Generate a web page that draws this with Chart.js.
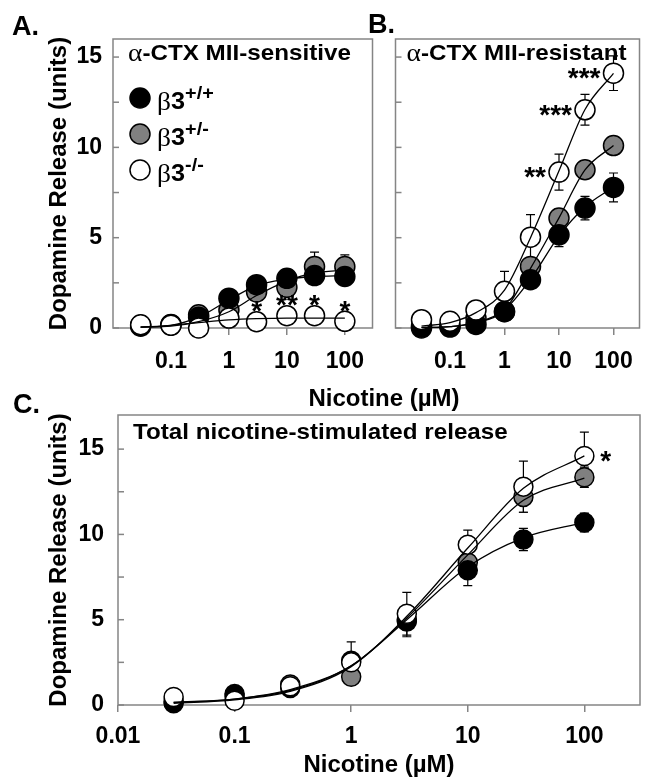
<!DOCTYPE html>
<html>
<head>
<meta charset="utf-8">
<title>Dopamine release vs nicotine</title>
<script src="https://cdn.jsdelivr.net/npm/chart.js@4.4.0/dist/chart.umd.min.js"></script>
<style>
  html, body { margin: 0; padding: 0; background: #fff; }
  #page { position: relative; width: 651px; height: 777px; overflow: hidden;
          font-family: "Liberation Sans", Arial, sans-serif; color: #000; }
  canvas { position: absolute; }
  .letter { position: absolute; font-weight: bold; font-size: 27px; line-height: 1; }
  #sharedX { position: absolute; left: 234px; width: 300px; top: 386px; text-align: center;
             font-weight: bold; font-size: 24px; line-height: 24px; }
</style>
</head>
<body>
<div id="page">
  <canvas id="chartA" width="384" height="378" style="left:0;top:0"></canvas>
  <canvas id="chartB" width="267" height="378" style="left:384px;top:0"></canvas>
  <canvas id="chartC" width="651" height="397" style="left:0;top:380px"></canvas>
  <div class="letter" style="left:12px;top:13px">A.</div>
  <div class="letter" style="left:368px;top:11px">B.</div>
  <div class="letter" style="left:13px;top:391px">C.</div>
  <div id="sharedX">Nicotine (µM)</div>
</div>
<script>
// Nicotine concentrations (µM) and genotype labels
const conc = [0.03, 0.1, 0.3, 1, 3, 10, 30, 100];
const genotypes = ['+/+', '+/-', '-/-'];
const xTicksAB = [0.1, 1, 10, 100];
const xTicksC = [0.01, 0.1, 1, 10, 100];
const yTicks = [0, 2.5, 5, 7.5, 10, 12.5, 15];

// A. alpha-CTX MII-sensitive release
const sensWT  = [0.1, 0.2, 0.6, 1.65, 2.4, 2.75, 2.9, 2.85];
const sensHet = [0.15, 0.18, 0.73, 1.0, 2.0, 2.25, 3.4, 3.4];
const sensKO  = [0.18, 0.15, 0.0, 0.55, 0.35, 0.68, 0.68, 0.37];
const sensWTErr  = [0.05, 0.1, 0.15, 0.3, 0.4, 0.3, 0.4, 0.5];
const sensHetErr = [0.05, 0.1, 0.15, 0.2, 0.35, 0.4, 0.8, 0.65];
const sensKOErr  = [0.05, 0.05, 0.05, 0.1, 0.1, 0.15, 0.15, 0.15];
const sensWTFit  = [0.05, 0.15, 0.6, 1.55, 2.35, 2.7, 2.85, 2.9];
const sensHetFit = [0.05, 0.1, 0.35, 0.9, 1.8, 2.6, 3.05, 3.2];
const sensKOFit  = [0.05, 0.15, 0.3, 0.45, 0.52, 0.55, 0.55, 0.55];
const sensStars  = ['', '', '', '', '*', '**', '*', '*'];

// B. alpha-CTX MII-resistant release
const resWT  = [0.0, 0.05, 0.2, 0.9, 2.67, 5.16, 6.64, 7.78];
const resHet = [0.1, 0.1, 0.55, 0.92, 3.41, 6.09, 8.76, 10.1];
const resKO  = [0.46, 0.37, 1.0, 2.03, 5.03, 8.63, 12.08, 14.11];
const resWTErr  = [0.05, 0.05, 0.1, 0.2, 0.3, 0.65, 0.65, 0.8];
const resHetErr = [0.05, 0.05, 0.1, 0.2, 0.4, 0.5, 0.5, 0.5];
const resKOErr  = [0.1, 0.1, 0.35, 1.1, 1.25, 1.0, 0.85, 0.96];
const resWTFit  = [0.02, 0.08, 0.3, 1.0, 2.7, 5.1, 6.7, 7.8];
const resHetFit = [0.02, 0.08, 0.3, 1.0, 3.3, 6.1, 8.75, 10.1];
const resKOFit  = [0.1, 0.3, 0.85, 2.1, 5.0, 8.7, 12.1, 14.1];
const resStars  = ['', '', '', '', '', '**', '***', '***'];

// C. Total nicotine-stimulated release
const totWT  = [0.1, 0.65, 1.0, 2.6, 4.9, 7.9, 9.7, 10.7];
const totHet = [0.2, 0.5, 1.2, 1.65, 5.0, 8.35, 12.2, 13.35];
const totKO  = [0.47, 0.25, 1.1, 2.5, 5.35, 9.4, 12.8, 14.6];
const totWTErr  = [0.05, 0.1, 0.1, 0.35, 0.9, 0.9, 0.65, 0.55];
const totHetErr = [0.05, 0.1, 0.15, 0.3, 0.6, 0.6, 0.9, 0.6];
const totKOErr  = [0.05, 0.05, 0.1, 1.2, 1.25, 0.85, 1.5, 1.4];
const totWTFit  = [0.15, 0.35, 0.9, 2.3, 5.0, 8.1, 9.8, 10.7];
const totHetFit = [0.15, 0.35, 0.85, 2.3, 5.1, 8.8, 12.0, 13.3];
const totKOFit  = [0.1, 0.3, 0.8, 2.25, 5.2, 9.2, 12.7, 14.6];
const totStars  = ['', '', '', '', '', '', '', '*'];

const FONT = '"Liberation Sans", Arial, sans-serif';
const SERIF = '"Liberation Serif", "Times New Roman", serif';
const FRAME = '#858585';
const FILLS = ['#000000', '#808080', '#ffffff'];

function pts(vals) {
    return conc.map((c, i) => ({ x: c, y: vals[i] }));
}

// draw a run of text pieces with different fonts side by side, slightly widened
function drawRich(ctx, parts, x, y, sx) {
    ctx.save();
    ctx.translate(x, y);
    ctx.scale(sx || 1, 1);
    let cx = 0;
    parts.forEach(p => {
        ctx.font = p.font;
        ctx.fillText(p.t, cx, p.dy || 0);
        cx += ctx.measureText(p.t).width;
    });
    ctx.restore();
}

const panelDecor = {
    id: 'panelDecor',
    beforeDatasetsDraw(chart, args, opts) {
        const { ctx, chartArea: a, scales: { x, y } } = chart;
        ctx.save();
        // frame and inward y ticks
        ctx.strokeStyle = FRAME;
        ctx.lineWidth = 1.5;
        ctx.strokeRect(a.left, a.top, a.right - a.left, a.bottom - a.top);
        yTicks.forEach(v => {
            const py = y.getPixelForValue(v);
            ctx.beginPath();
            ctx.moveTo(a.left, py);
            ctx.lineTo(a.left + 6, py);
            ctx.stroke();
        });
        // error bars (markers are drawn over them)
        ctx.strokeStyle = '#000';
        ctx.lineWidth = 1.2;
        chart.data.datasets.forEach(ds => {
            if (!ds.errors) return;
            ds.data.forEach((p, j) => {
                const e = ds.errors[j];
                if (!e) return;
                const px = x.getPixelForValue(p.x);
                const yt = y.getPixelForValue(p.y + e);
                const yb = y.getPixelForValue(Math.max(0, p.y - e));
                ctx.beginPath();
                ctx.moveTo(px, yt); ctx.lineTo(px, yb);
                ctx.moveTo(px - 4.5, yt); ctx.lineTo(px + 4.5, yt);
                ctx.moveTo(px - 4.5, yb); ctx.lineTo(px + 4.5, yb);
                ctx.stroke();
            });
        });
        ctx.restore();
    },
    afterDatasetsDraw(chart, args, opts) {
        const { ctx, chartArea: a, scales: { x, y } } = chart;
        ctx.save();
        ctx.fillStyle = '#000';
        ctx.textBaseline = 'middle';
        ctx.textAlign = 'left';

        // panel title inside the box
        drawRich(ctx, opts.title, a.left + opts.titleDx, a.top + opts.titleDy, 1.1);

        const markers = chart.data.datasets.filter(ds => ds.errors);

        // legend (panel A only)
        if (opts.legend) {
            markers.forEach((ds, i) => {
                const cx = a.left + 27, cy = a.top + 59 + i * 36;
                ctx.beginPath();
                ctx.arc(cx, cy, 10, 0, Math.PI * 2);
                ctx.fillStyle = ds.pointBackgroundColor;
                ctx.fill();
                ctx.lineWidth = 1.5;
                ctx.strokeStyle = '#000';
                ctx.stroke();
                ctx.fillStyle = '#000';
                drawRich(ctx, [
                    { t: 'β', font: '25px ' + SERIF, dy: 5 },
                    { t: '3', font: 'bold 23px ' + FONT, dy: 5 },
                    { t: genotypes[i], font: 'bold 18px ' + FONT, dy: -4 }
                ], cx + 17, cy, 1.1);
            });
        }

        // significance stars next to the beta3-/- points
        const ko = markers[2];
        ctx.font = 'bold 28px ' + FONT;
        opts.stars.forEach((s, j) => {
            if (!s) return;
            const px = x.getPixelForValue(ko.data[j].x);
            const py = y.getPixelForValue(ko.data[j].y);
            if (opts.starSide === 'above') {
                ctx.textAlign = 'center';
                ctx.fillText(s, px, py - 15 + 6);
            } else if (opts.starSide === 'left') {
                ctx.textAlign = 'right';
                ctx.fillText(s, px - 13, py + 6);
            } else {
                ctx.textAlign = 'left';
                ctx.fillText(s, px + 16, py + 6);
            }
        });
        ctx.restore();
    }
};

function buildDatasets(means, errs, fits, radius) {
    const sets = [];
    fits.forEach(f => sets.push({
        data: pts(f),
        showLine: true,
        pointRadius: 0,
        borderColor: '#000',
        borderWidth: 1.3,
        cubicInterpolationMode: 'monotone',
        order: 0,
        clip: false
    }));
    means.forEach((m, i) => sets.push({
        label: 'β3' + genotypes[i],
        data: pts(m),
        errors: errs[i],
        showLine: false,
        pointRadius: radius,
        pointBackgroundColor: FILLS[i],
        pointBorderColor: '#000',
        pointBorderWidth: 1.5,
        order: [2, 3, 1][i],
        clip: false
    }));
    return sets;
}

function xAxis(ticks, height, pad, title) {
    return {
        type: 'logarithmic',
        min: 0.01,
        max: 300,
        afterBuildTicks: s => { s.ticks = ticks.map(v => ({ value: v })); },
        afterFit: s => { s.height = height; },
        border: { display: false },
        grid: { display: true, drawOnChartArea: false, drawTicks: true, tickLength: 7, color: FRAME, lineWidth: 1.5 },
        ticks: {
            autoSkip: false, maxRotation: 0, padding: pad, color: '#000',
            font: { family: FONT, weight: 'bold', size: 23, lineHeight: 1 },
            callback: v => String(v)
        },
        title: title ? {
            display: true, text: title, color: '#000', padding: { top: 0, bottom: 0 },
            font: { family: FONT, weight: 'bold', size: 24, lineHeight: 1 }
        } : { display: false }
    };
}

function yAxis(max, show, width, pad) {
    return {
        type: 'linear',
        min: 0,
        max: max,
        display: show,
        afterBuildTicks: s => { s.ticks = yTicks.map(v => ({ value: v })); },
        afterFit: s => { s.width = width; },
        border: { display: false },
        grid: { display: false, drawTicks: false },
        ticks: {
            padding: pad, color: '#000',
            font: { family: FONT, weight: 'bold', size: 23, lineHeight: 1 },
            callback: v => (v % 5 === 0 ? String(v) : '')
        },
        title: {
            display: true, text: 'Dopamine Release (units)', color: '#000',
            padding: { top: 47, bottom: 0 },
            font: { family: FONT, weight: 'bold', size: 24, lineHeight: 1 }
        }
    };
}

function makePanel(id, datasets, scales, padding, decor) {
    return new Chart(document.getElementById(id), {
        type: 'scatter',
        data: { datasets: datasets },
        options: {
            responsive: false,
            animation: false,
            events: [],
            layout: { padding: padding },
            scales: scales,
            plugins: {
                legend: { display: false },
                tooltip: { enabled: false },
                panelDecor: decor
            }
        },
        plugins: [panelDecor]
    });
}

makePanel('chartA',
    buildDatasets([sensWT, sensHet, sensKO], [sensWTErr, sensHetErr, sensKOErr],
                  [sensWTFit, sensHetFit, sensKOFit], 10),
    { x: xAxis(xTicksAB, 50, 15, null), y: yAxis(16, true, 113, 11) },
    { left: 0, top: 39, right: 5, bottom: 0 },
    {
        title: [{ t: 'α', font: '25px ' + SERIF }, { t: '-CTX MII-sensitive', font: 'bold 22px ' + FONT }],
        titleDx: 15, titleDy: 15, legend: true, stars: sensStars, starSide: 'above'
    });

makePanel('chartB',
    buildDatasets([resWT, resHet, resKO], [resWTErr, resHetErr, resKOErr],
                  [resWTFit, resHetFit, resKOFit], 10),
    { x: xAxis(xTicksAB, 50, 15, null), y: yAxis(16, false, 0, 11) },
    { left: 3, top: 39, right: 2, bottom: 0 },
    {
        title: [{ t: 'α', font: '25px ' + SERIF }, { t: '-CTX MII-resistant', font: 'bold 22px ' + FONT }],
        titleDx: 11, titleDy: 15, legend: false, stars: resStars, starSide: 'left'
    });

makePanel('chartC',
    buildDatasets([totWT, totHet, totKO], [totWTErr, totHetErr, totKOErr],
                  [totWTFit, totHetFit, totKOFit], 9.5),
    { x: xAxis(xTicksC, 72, 13, 'Nicotine (µM)'), y: yAxis(17, true, 118, 14) },
    { left: 0, top: 35, right: 1, bottom: 0 },
    {
        title: [{ t: 'Total nicotine-stimulated release', font: 'bold 22px ' + FONT }],
        titleDx: 15, titleDy: 18, legend: false, stars: totStars, starSide: 'right'
    });
</script>
</body>
</html>
